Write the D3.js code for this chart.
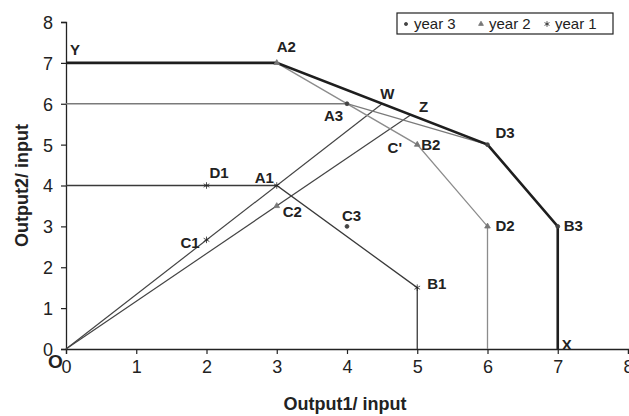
<!DOCTYPE html>
<html>
<head>
<meta charset="utf-8">
<script src="https://cdn.jsdelivr.net/npm/d3@7"></script>
<style>
  body { margin: 0; background: #fff; }
  svg { display: block; font-family: "Liberation Sans", Arial, sans-serif; }
</style>
</head>
<body>
<svg id="chart" width="629" height="416"></svg>
<script>
// Axis ticks
const xTicks = [0, 1, 2, 3, 4, 5, 6, 7, 8];
const yTicks = [0, 1, 2, 3, 4, 5, 6, 7, 8];

// Decision-making units per year: name, output1/input, output2/input
const year3Names = ["A3", "B3", "C3", "D3"];
const year3X = [4, 7, 4, 6];
const year3Y = [6, 3, 3, 5];

const year2Names = ["A2", "B2", "C2", "D2"];
const year2X = [3, 5, 3, 6];
const year2Y = [7, 5, 3.5, 3];

const year1Names = ["A1", "B1", "C1", "D1"];
const year1X = [3, 5, 2, 2];
const year1Y = [4, 1.5, 2.67, 4];

// Frontier paths
const envelopeX = [0, 3, 6, 7, 7];
const envelopeY = [7, 7, 5, 3, 0];
const year3PathX = [0, 4, 6];
const year3PathY = [6, 6, 5];
const year2PathX = [3, 5, 6, 6];
const year2PathY = [7, 5, 3, 0];
const year1PathX = [0, 2, 3, 5, 5];
const year1PathY = [4, 4, 4, 1.5, 0];

// Rays from origin through C1 (to W) and through C2 (to Z)
const rayW = [[0, 0], [4.5, 6]];
const rayZ = [[0, 0], [4.91, 5.73]];

// Reference points named on the graph
const refNames = ["O", "Y", "X", "W", "Z", "C'"];
const refX = [0, 0, 7, 4.5, 4.91, 4.62];
const refY = [0, 7, 0, 6, 5.73, 5.05];

const svg = d3.select("#chart");
const margin = { left: 66, right: 1, top: 22, bottom: 67 };
const W = 629, H = 416;

const x = d3.scaleLinear().domain([0, 8]).range([margin.left, W - margin.right]);
const y = d3.scaleLinear().domain([0, 8]).range([H - margin.bottom, margin.top]);

// Axes
const xAxis = svg.append("g")
  .attr("transform", `translate(0,${y(0)})`)
  .call(d3.axisBottom(x).tickValues(xTicks).tickSize(5).tickPadding(6).tickFormat(d3.format("d")));
const yAxis = svg.append("g")
  .attr("transform", `translate(${x(0)},0)`)
  .call(d3.axisLeft(y).tickValues(yTicks).tickSize(5).tickPadding(8).tickFormat(d3.format("d")));
[xAxis, yAxis].forEach(g => {
  g.select(".domain").attr("stroke", "#222").attr("stroke-width", 1.3);
  g.selectAll(".tick line").attr("stroke", "#222").attr("stroke-width", 1.2);
  g.selectAll(".tick text").attr("font-size", 18).attr("fill", "#222")
    .attr("font-family", "'Liberation Sans', Arial, sans-serif");
});
yAxis.selectAll(".tick text").attr("dy", "0.36em");

// Axis titles
svg.append("text")
  .attr("x", (x(0) + x(8)) / 2 - 2).attr("y", 410)
  .attr("text-anchor", "middle").attr("font-size", 18).attr("font-weight", "bold").attr("fill", "#222")
  .text("Output1/ input");
svg.append("text")
  .attr("transform", `translate(28,${(y(0) + y(8)) / 2}) rotate(-90)`)
  .attr("text-anchor", "middle").attr("font-size", 18).attr("font-weight", "bold").attr("fill", "#222")
  .text("Output2/ input");

const line = d3.line().x(d => x(d[0])).y(d => y(d[1]));
const zip = (xs, ys) => xs.map((v, i) => [v, ys[i]]);

// Rays
[rayW, rayZ].forEach(r => {
  svg.append("path").attr("d", line(r)).attr("fill", "none")
    .attr("stroke", "#444").attr("stroke-width", 1.2);
});

// Year frontiers
svg.append("path").attr("d", line(zip(year1PathX, year1PathY))).attr("fill", "none")
  .attr("stroke", "#3a3a3a").attr("stroke-width", 1.3);
svg.append("path").attr("d", line(zip(year2PathX, year2PathY))).attr("fill", "none")
  .attr("stroke", "#8c8c8c").attr("stroke-width", 1.3);
svg.append("path").attr("d", line(zip(year3PathX, year3PathY))).attr("fill", "none")
  .attr("stroke", "#7a7a7a").attr("stroke-width", 1.3);

// Overall envelope
svg.append("path").attr("d", line(zip(envelopeX, envelopeY))).attr("fill", "none")
  .attr("stroke", "#1e1e1e").attr("stroke-width", 2.6).attr("stroke-linejoin", "miter");

// Markers
const sym = (type, size) => d3.symbol().type(type).size(size)();
function markers(xs, ys, type, size, color) {
  svg.append("g").selectAll("path").data(zip(xs, ys)).join("path")
    .attr("transform", d => `translate(${x(d[0])},${y(d[1])})`)
    .attr("d", sym(type, size))
    .attr("fill", color).attr("stroke", color).attr("stroke-width", 0.8);
}
markers(year3X, year3Y, d3.symbolCircle, 12, "#444");
markers(year2X, year2Y, d3.symbolTriangle, 14, "#777");
markers(year1X, year1Y, d3.symbolAsterisk, 30, "#222");

// Point labels, offsets in pixels from each point
const labelOffset = {
  A3: [-23, 17], B3: [6, 5], C3: [-5, -5], D3: [8, -7],
  A2: [0, -11], B2: [4, 5], C2: [6, 11], D2: [8, 5],
  A1: [-22, -3], B1: [10, 1], C1: [-26, 8], D1: [3, -8],
  O: [-18, 19], Y: [4, -8], X: [4, 1], W: [-2, -5], Z: [8, -3], "C'": [-3, 10]
};
const allNames = [...year3Names, ...year2Names, ...year1Names, ...refNames];
const allX = [...year3X, ...year2X, ...year1X, ...refX];
const allY = [...year3Y, ...year2Y, ...year1Y, ...refY];
svg.append("g").selectAll("text").data(allNames).join("text")
  .attr("x", (d, i) => x(allX[i]) + labelOffset[d][0])
  .attr("y", (d, i) => y(allY[i]) + labelOffset[d][1])
  .attr("font-size", d => (d === "O" ? 19 : 15))
  .attr("font-weight", "bold").attr("fill", "#222")
  .text(d => d);

// Legend
const legendItems = ["year 3", "year 2", "year 1"];
const legendSymbols = [d3.symbolCircle, d3.symbolTriangle, d3.symbolAsterisk];
const legendSizes = [8, 10, 22];
const legendColors = ["#444", "#777", "#222"];
const lg = svg.append("g").attr("transform", "translate(397,13)");
lg.append("rect").attr("width", 216).attr("height", 21)
  .attr("fill", "#fff").attr("stroke", "#222").attr("stroke-width", 1.2);
const itemX = [9, 84, 150];
legendItems.forEach((t, i) => {
  lg.append("path").attr("transform", `translate(${itemX[i]},11)`)
    .attr("d", sym(legendSymbols[i], legendSizes[i]))
    .attr("fill", legendColors[i]).attr("stroke", legendColors[i]).attr("stroke-width", 0.8);
  lg.append("text").attr("x", itemX[i] + 8).attr("y", 16)
    .attr("font-size", 15).attr("fill", "#222").text(t);
});
</script>
</body>
</html>
